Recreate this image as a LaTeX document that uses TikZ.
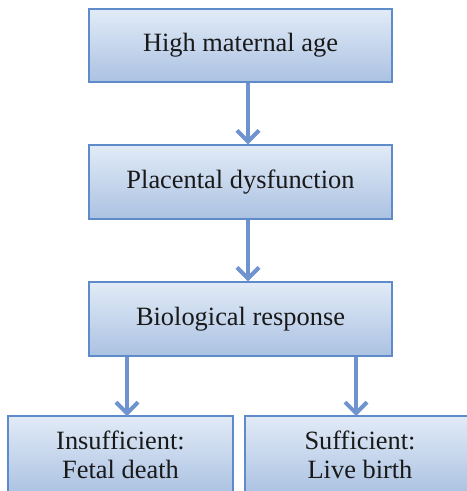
\documentclass[tikz,border=0pt]{standalone}
\usepackage{fontspec}
\setmainfont{Liberation Serif}
\usetikzlibrary{arrows.meta}
\definecolor{boxtop}{HTML}{E2EBF7}
\definecolor{boxbot}{HTML}{ABC2E2}
\definecolor{boxline}{HTML}{5F8BCB}
\definecolor{arrowc}{HTML}{6E93CE}
\tikzset{
  flowbox/.style={draw=boxline, line width=1.4bp, top color=boxtop, bottom color=boxbot,
    rectangle, inner sep=0pt, align=center, font=\fontsize{26.5}{29}\selectfont, text=black!90},
  flowarrow/.style={draw=arrowc, line width=4bp,
    -{Straight Barb[length=11bp, width=22bp, line width=4bp]}},
}
\begin{document}
\begin{tikzpicture}[x=1bp, y=-1bp]
  \useasboundingbox (0,0) rectangle (467,491);
  \begin{scope}
    \clip (0,0) rectangle (467,491);
    \node[flowbox, minimum width=303bp, minimum height=73bp] (age) at (240.5,45.5) {High maternal age};
    \node[flowbox, minimum width=303bp, minimum height=74bp] (plac) at (240.5,182) {Placental dysfunction};
    \node[flowbox, minimum width=303bp, minimum height=74bp] (bio) at (240.5,319) {Biological response};
    \node[flowbox, minimum width=225bp, minimum height=78bp] (insuf) at (120.5,455) {Insufficient:\\Fetal death};
    \node[flowbox, minimum width=230bp, minimum height=78bp] (suf) at (360,455) {Sufficient:\\Live birth};
    \coordinate (spine) at (248,0);
    \coordinate (insuf-top) at (127,416);
    \coordinate (suf-top) at (356,416);
  \end{scope}
  \draw[flowarrow] (age.south -| spine) -- (plac.north -| spine);
  \draw[flowarrow] (plac.south -| spine) -- (bio.north -| spine);
  \draw[flowarrow] (bio.south -| insuf-top) -- (insuf-top);
  \draw[flowarrow] (bio.south -| suf-top) -- (suf-top);
\end{tikzpicture}
\end{document}
